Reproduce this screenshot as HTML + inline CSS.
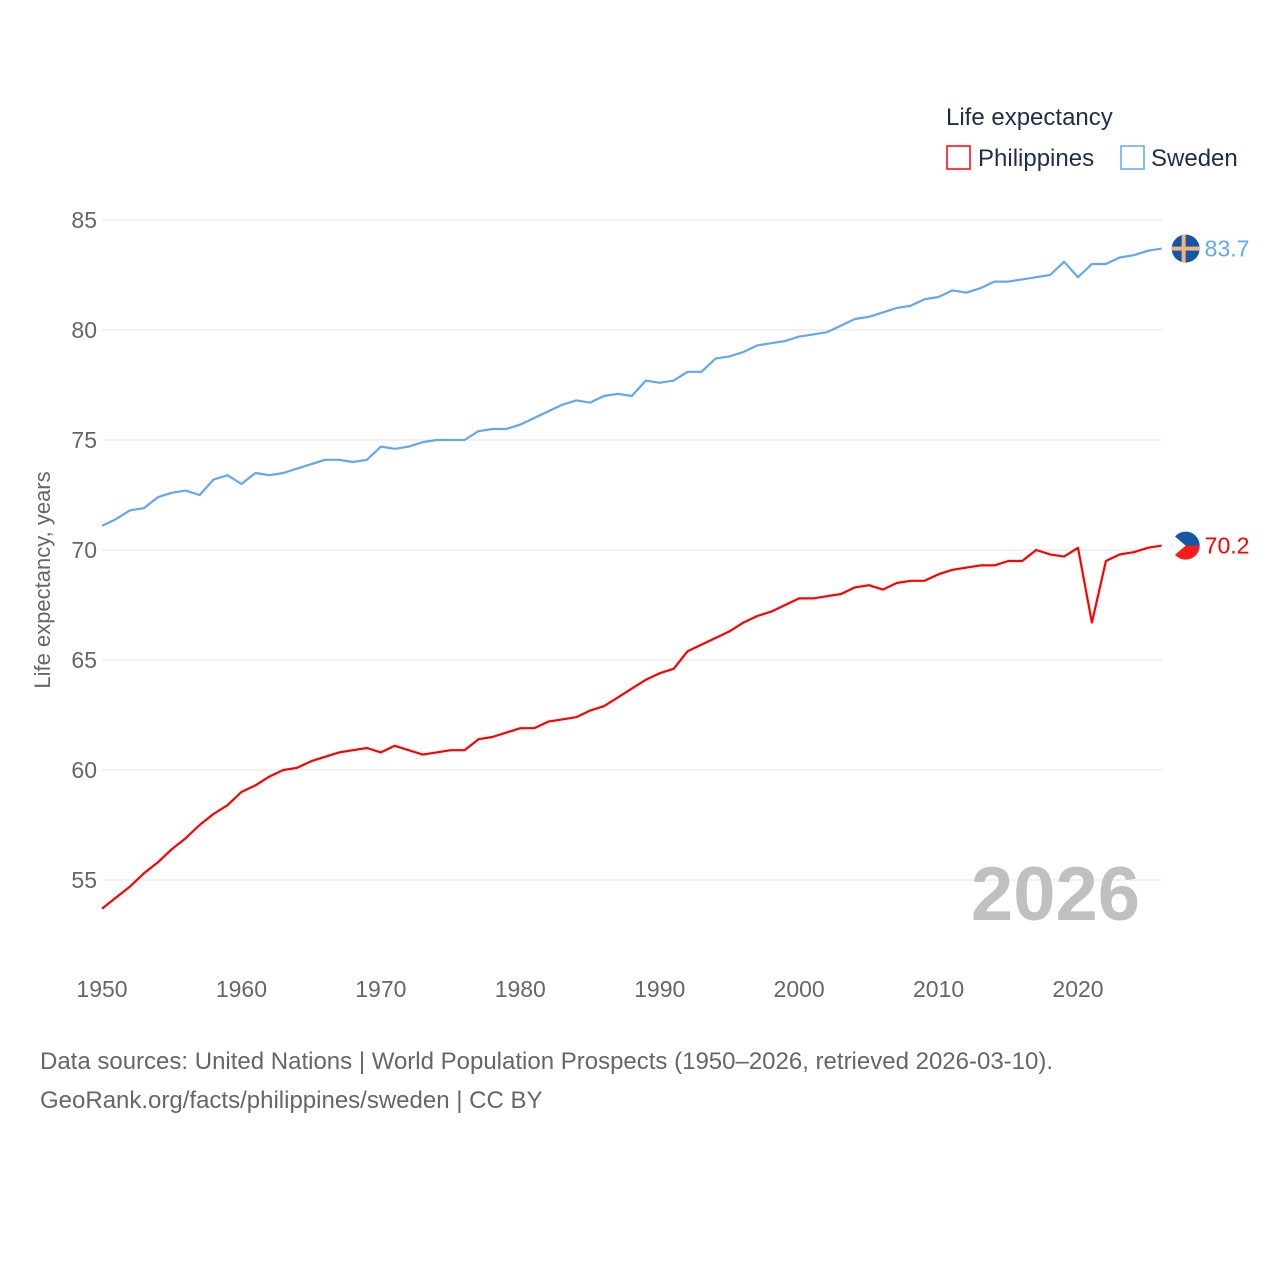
<!DOCTYPE html>
<html><head><meta charset="utf-8"><style>
body{margin:0;background:#fff;font-family:"Liberation Sans",sans-serif}
svg text{font-family:"Liberation Sans",sans-serif}
</style></head><body>
<svg id="chart" width="1280" height="1280">
<text x="946" y="125" font-size="24" fill="#1f2d4a">Life expectancy</text>
<g><rect x="947" y="146" width="23" height="23" fill="none" stroke="#ff0000" stroke-width="1.5"/><text x="978" y="166" font-size="24" fill="#1f2d4a">Philippines</text></g>
<g><rect x="1121" y="146" width="23" height="23" fill="none" stroke="#62a8ef" stroke-width="1.5"/><text x="1151" y="166" font-size="24" fill="#1f2d4a">Sweden</text></g>
<g id="grid"></g><g id="xt"></g>
<text x="1140" y="920" font-size="76" font-weight="bold" fill="#c0c0c0" text-anchor="end">2026</text>
<text transform="translate(50,580) rotate(-90)" font-size="22" fill="#666" text-anchor="middle">Life expectancy, years</text>
<g id="series"></g>
<text x="40" y="1069" font-size="24" fill="#666">Data sources: United Nations | World Population Prospects (1950–2026, retrieved 2026-03-10).</text>
<text x="40" y="1108" font-size="24" fill="#666">GeoRank.org/facts/philippines/sweden | CC BY</text>
</svg>
<script>
const years=[];for(let y=1950;y<=2026;y++)years.push(y);
const sweden=[71.1,71.4,71.8,71.9,72.4,72.6,72.7,72.5,73.2,73.4,73.0,73.5,73.4,73.5,73.7,73.9,74.1,74.1,74.0,74.1,74.7,74.6,74.7,74.9,75.0,75.0,75.0,75.4,75.5,75.5,75.7,76.0,76.3,76.6,76.8,76.7,77.0,77.1,77.0,77.7,77.6,77.7,78.1,78.1,78.7,78.8,79.0,79.3,79.4,79.5,79.7,79.8,79.9,80.2,80.5,80.6,80.8,81.0,81.1,81.4,81.5,81.8,81.7,81.9,82.2,82.2,82.3,82.4,82.5,83.1,82.4,83.0,83.0,83.3,83.4,83.6,83.7];
const philippines=[53.7,54.2,54.7,55.3,55.8,56.4,56.9,57.5,58.0,58.4,59.0,59.3,59.7,60.0,60.1,60.4,60.6,60.8,60.9,61.0,60.8,61.1,60.9,60.7,60.8,60.9,60.9,61.4,61.5,61.7,61.9,61.9,62.2,62.3,62.4,62.7,62.9,63.3,63.7,64.1,64.4,64.6,65.4,65.7,66.0,66.3,66.7,67.0,67.2,67.5,67.8,67.8,67.9,68.0,68.3,68.4,68.2,68.5,68.6,68.6,68.9,69.1,69.2,69.3,69.3,69.5,69.5,70.0,69.8,69.7,70.1,66.7,69.5,69.8,69.9,70.1,70.2];
const yTicks=[55,60,65,70,75,80,85];
const xTicks=[1950,1960,1970,1980,1990,2000,2010,2020];
const X=y=>102+(y-1950)*(976/70);
const Y=v=>220+(85-v)*22;
const NS="http://www.w3.org/2000/svg";
function mk(tag,attrs,parent,txt){const e=document.createElementNS(NS,tag);for(const k in attrs)e.setAttribute(k,attrs[k]);if(txt!==undefined)e.textContent=txt;parent.appendChild(e);return e;}
const grid=document.getElementById('grid');
yTicks.forEach(t=>{
  const l=mk('line',{x1:102,x2:1162,y1:Y(t),y2:Y(t),stroke:'#e3e3e3','stroke-width':1},grid);
  
  
  const tx=mk('text',{x:97,y:Y(t)+8,'font-size':23,fill:'#666','text-anchor':'end'},grid,t);
  
  
});
const xt=document.getElementById('xt');
xTicks.forEach(t=>{
  const tx=mk('text',{x:X(t),y:997,'font-size':23,fill:'#666','text-anchor':'middle'},xt,t);
  
  
});
const sg=document.getElementById('series');
function drawSeries(vals,color,name){
  const d=vals.map((v,i)=>(i?'L':'M')+X(years[i]).toFixed(1)+','+Y(v).toFixed(1)).join('');
  const p=mk('path',{d:d,fill:'none',stroke:color,'stroke-width':2.2,'stroke-linejoin':'round'},sg);
  
  
  const last=vals[vals.length-1],lx=X(years[years.length-1]),ly=Y(last);
  const c=mk('circle',{cx:lx+24,cy:ly,r:14,fill:'#1457a8'},sg);
  
  
  if(name==='sweden'){
    mk('rect',{x:lx+10,y:ly-2,width:28,height:4,fill:'#f2b27a'},sg);
    mk('rect',{x:lx+20,y:ly-14,width:4,height:28,fill:'#f2b27a'},sg);
  } else {
    mk('path',{d:`M${lx+10},${ly} A14,14 0 0 0 ${lx+38},${ly} Z`,fill:'#ff1a1a'},sg);
    mk('path',{d:`M${lx+10},${ly-12} L${lx+24},${ly} L${lx+10},${ly+12} Z`,fill:'#fff'},sg);
  }
  const lt=mk('text',{x:lx+43,y:ly+8,'font-size':23,fill:color},sg,last.toFixed(1));
  
  
}
drawSeries(sweden,'#62a8ef','sweden');
drawSeries(philippines,'#ff0000','philippines');
</script>
</body></html>
